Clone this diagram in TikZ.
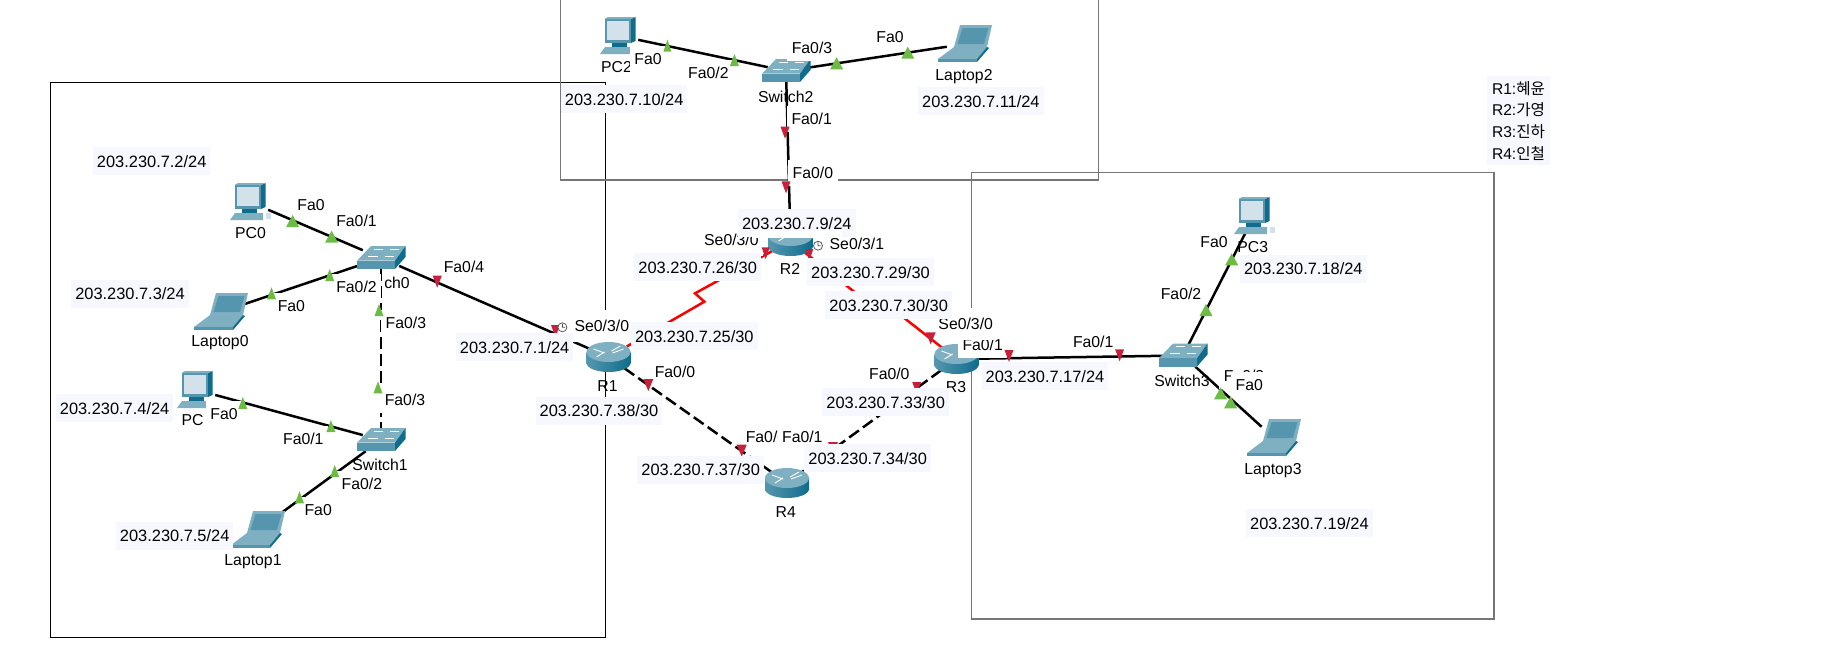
\documentclass[tikz,border=0pt]{standalone}
\usepackage{fontspec}
\setmainfont{Liberation Sans}
\newfontfamily\cjkfont{Noto Sans CJK KR}
\definecolor{portgreen}{HTML}{6CBB45}
\definecolor{portred}{HTML}{C8203A}
\definecolor{framegray}{HTML}{767676}
\definecolor{notebg}{HTML}{F7F8FF}
\definecolor{icondark}{HTML}{0F6C8C}
\definecolor{iconmid}{HTML}{5596AE}
\definecolor{iconlight}{HTML}{D3E2EA}
\definecolor{iconpale}{HTML}{7FB0C2}

\begin{document}
\begin{tikzpicture}[
    x=1pt, y=-1pt,
    devbox/.style={inner sep=0pt, minimum width=36pt, minimum height=22pt},
    devlabel/.style={font=\fontsize{15.8}{18}\selectfont, inner sep=0pt},
    portlabel/.style={font=\fontsize{15.8}{18}\selectfont, fill=white, inner xsep=4.5pt, inner ysep=0pt, minimum height=26pt},
    seriallabel/.style={portlabel, minimum height=32pt},
    iplabel/.style={font=\fontsize{16.4}{18}\selectfont, fill=notebg, inner xsep=4pt, inner ysep=0pt, minimum height=28pt},
    eth/.style={line width=2.5pt, black},
    ethdash/.style={eth, dash pattern=on 12pt off 5pt},
    serial/.style={line width=2.5pt, red, line join=miter},
    clock/.style={draw=black!70, fill=white, line width=0.7pt},
    pics/pcicon/.style={code={
        \fill[iconpale] (-20,18) -- (-15,11) -- (13,11) -- (13,18) -- cycle;
        \fill[icondark] (-8,7) rectangle (7,11);
        \fill[iconmid] (-15.5,-17) rectangle (11,7);
        \fill[iconlight] (-13,-15) rectangle (9,4);
        \fill[icondark] (11,-17) -- (15.5,-19) -- (15.5,5) -- (11,7) -- cycle;
        \fill[iconpale] (-15.5,-17) -- (-12,-19) -- (15.5,-19) -- (11,-17) -- cycle;
        \fill[iconlight] (16,11) rectangle (21,17);
    }},
    pics/laptopicon/.style={code={
        \fill[iconpale] (-11,3) -- (-5,-19) -- (27,-19) -- (22,3) -- cycle;
        \fill[iconmid] (-7.5,0) -- (-2.5,-16) -- (23.5,-16) -- (19,0) -- cycle;
        \fill[iconpale] (-27,15) -- (-11,3) -- (22,3) -- (12,15) -- cycle;
        \fill[iconmid] (-27,15) rectangle (12,18);
        \fill[icondark] (12,18) -- (12,15) -- (22,3) -- (24,4) -- cycle;
    }},
    pics/switchicon/.style={code={
        \fill[iconpale] (-24,2.7) -- (-10,-12) -- (24.5,-12) -- (14,2.7) -- cycle;
        \fill[iconmid] (-24,2.7) rectangle (14,11);
        \fill[icondark] (14,2.7) -- (24.5,-12) -- (24.5,-1) -- (14,11) -- cycle;
        \draw[white, line width=0.7pt] (-7,-9) -- (2,-9) (9,-9) -- (18,-9) (-13,-2) -- (-3,-2) (4,-2) -- (13,-2);
    }},
    pics/routericon/.style={code={
        \shade[left color=iconmid, middle color=iconlight, right color=icondark] (0,6) ellipse [x radius=22, y radius=9];
        \shade[left color=iconmid, middle color=iconlight, right color=icondark] (-22,-5) rectangle (22,6);
        \fill[iconpale] (0,-5) ellipse [x radius=22, y radius=10];
        \draw[white, line width=0.9pt] (-15,-8) -- (-4,-4) (15,-8) -- (4,-4) (-12,0) -- (-4,-5) (12,-11) -- (3,-6);
    }}
]
\useasboundingbox (0,0) rectangle (1835,646);

% Area frames
\draw[black, line width=1pt] (50.3,82) rectangle (605.6,637.3);
\draw[framegray, line width=1.5pt] (560.7,0) -- (560.7,180) -- (1098.3,180) -- (1098.3,0);
\draw[framegray, line width=1.5pt] (971.3,172.7) rectangle (1493.9,619);

% Devices
\node[devbox] (PC0) at (250,202) {};
\node[devbox] (Switch0) at (381,258) {};
\node[devbox] (Laptop0) at (221,312) {};
\node[devbox] (PC1) at (197,390) {};
\node[devbox] (Switch1) at (381,440) {};
\node[devbox] (Laptop1) at (258,530) {};
\node[devbox] (PC2) at (620,36) {};
\node[devbox] (Switch2) at (786,71) {};
\node[devbox] (Laptop2) at (965,44) {};
\node[devbox] (PC3) at (1254,216) {};
\node[devbox] (Switch3) at (1183,355.5) {};
\node[devbox] (Laptop3) at (1274,438) {};
\node[devbox] (R1) at (608.5,357) {};
\node[devbox] (R2) at (790.5,241) {};
\node[devbox] (R3) at (956.5,359) {};
\node[devbox] (R4) at (787,483) {};

% Bends of the serial links
\coordinate (zigA) at (704.3,301.7);
\coordinate (zigB) at (695,293.3);
\coordinate (zigC) at (872,306);
\coordinate (zigD) at (880,299);

% Links
\draw[eth] (PC0) -- (Switch0);
\draw[eth] (Laptop0) -- (Switch0);
\draw[eth] (Switch0) -- (R1);
\draw[ethdash] (Switch0) -- (Switch1);
\draw[eth] (PC1) -- (Switch1);
\draw[eth] (Laptop1) -- (Switch1);
\draw[eth] (PC2) -- (Switch2);
\draw[eth] (Laptop2) -- (Switch2);
\draw[eth] (Switch2) -- (R2);
\draw[eth] (R3) -- (Switch3);
\draw[eth] (PC3) -- (Switch3);
\draw[eth] (Laptop3) -- (Switch3);
\draw[ethdash] (R1) -- (R4);
\draw[ethdash] (R3) -- (R4);
\draw[serial] (R1) -- (zigA) -- (zigB) -- (R2);
\draw[serial] (R2) -- (zigC) -- (zigD) -- (R3);

% Icons
\pic at (PC0) {pcicon};
\pic at (PC1) {pcicon};
\pic at (PC2) {pcicon};
\pic at (PC3) {pcicon};
\pic at (Laptop0) {laptopicon};
\pic at (Laptop1) {laptopicon};
\pic at (Laptop2) {laptopicon};
\pic at (Laptop3) {laptopicon};
\pic at (Switch0) {switchicon};
\pic at (Switch1) {switchicon};
\pic at (Switch2) {switchicon};
\pic at (Switch3) {switchicon};
\pic at (R1) {routericon};
\pic at (R2) {routericon};
\pic at (R3) {routericon};
\pic at (R4) {routericon};

% Device names
\node[devlabel] (namePC0) at (250.5,233) {PC0};
\node[devlabel] (nameSw0) at (397,283) {ch0};
\node[devlabel] (nameLap0) at (220,343) {Laptop0};
\node[devlabel] (namePC1) at (192.5,420) {PC};
\node[devlabel] (nameSw1) at (380,465) {Switch1};
\node[devlabel] (nameLap1) at (253,562) {Laptop1};
\node[devlabel] (namePC2) at (616.5,67) {PC2};
\node[devlabel] (nameSw2) at (785.7,96.7) {Switch2};
\node[devlabel] (nameLap2) at (964,76.7) {Laptop2};
\node[devlabel] (namePC3) at (1252.8,247) {PC3};
\node[devlabel] (nameSw3) at (1182,380.7) {Switch3};
\node[devlabel] (nameLap3) at (1273,470.7) {Laptop3};
\node[devlabel] (nameR1) at (607.5,386) {R1};
\node[devlabel] (nameR2) at (790,269) {R2};
\node[devlabel] (nameR3) at (956,387) {R3};
\node[devlabel] (nameR4) at (785.7,512) {R4};

% Port names
\node[portlabel] (portA) at (311,205.3) {Fa0};
\node[portlabel] (portB) at (356.5,221) {Fa0/1};
\node[portlabel] (portC) at (356.5,287.3) {Fa0/2};
\node[portlabel] (portD) at (291.4,306) {Fa0};
\node[portlabel] (portE) at (464,267.3) {Fa0/4};
\node[portlabel] (portF) at (405.9,323.3) {Fa0/3};
\node[portlabel] (portG) at (405,400.3) {Fa0/3};
\node[portlabel] (portH) at (224,414.3) {Fa0};
\node[portlabel] (portI) at (303.3,439) {Fa0/1};
\node[portlabel] (portJ) at (361.9,484.3) {Fa0/2};
\node[portlabel] (portK) at (318.2,510.3) {Fa0};
\node[portlabel] (portL) at (648,58.7) {Fa0};
\node[portlabel] (portM) at (708.4,73.3) {Fa0/2};
\node[portlabel] (portN) at (812,48.3) {Fa0/3};
\node[portlabel] (portO) at (890,37.3) {Fa0};
\node[portlabel] (portP) at (811.7,119.3) {Fa0/1};
\node[portlabel] (portQ) at (812.9,173.3) {Fa0/0};
\node[portlabel] (portR) at (675,371.7) {Fa0/0};
\node[portlabel] (portS) at (889.3,374.3) {Fa0/0};
\node[portlabel] (portT) at (982.7,344.5) {Fa0/1};
\node[portlabel] (portU) at (766,437.3) {Fa0/0};
\node[portlabel] (portV) at (802.3,436.7) {Fa0/1};
\node[portlabel] (portW) at (1093.2,341.7) {Fa0/1};
\node[portlabel] (portX) at (1214,242.3) {Fa0};
\node[portlabel] (portY) at (1181,293.7) {Fa0/2};
\node[portlabel] (portZ) at (1244,376) {Fa0/3};
\node[portlabel] (portAA) at (1249.3,385.3) {Fa0};
\node[seriallabel] (serA) at (601.8,326.3) {Se0/3/0};
\node[seriallabel] (serB) at (731.4,240.3) {Se0/3/0};
\node[seriallabel] (serC) at (856.9,244.3) {Se0/3/1};
\node[seriallabel] (serD) at (965.7,324.3) {Se0/3/0};

% Port state marks
\foreach \x/\y/\w in {292.6/221/13, 331.6/236.7/13, 329.7/275/9, 271.5/293.3/9, 379/310/9, 378/387.3/9,
    242.8/403/9, 330.9/426/9, 334.7/471/9, 299.5/497.3/9, 667.4/45.7/8, 734.4/60/9, 836.6/63.3/13,
    907.8/52.7/13, 1231.7/259.3/13, 1206/310/13, 1220.6/393.3/13, 1230.6/402.3/13}
    \fill[portgreen] ({\x-\w/2},{\y+6}) -- ({\x+\w/2},{\y+6}) -- (\x,{\y-6}) -- cycle;
\foreach \x/\y/\w in {437.2/281.7/9, 555.5/331/9, 785/132.7/9, 786/187.3/9, 765.7/253.3/8, 809.3/255/8,
    648.3/385/10, 741.7/450.7/10, 930.7/338.3/10, 916.7/388/9, 833/448/10, 1009/356/9, 1119.6/355.3/9}
    \fill[portred] ({\x-\w/2},{\y-6}) -- ({\x+\w/2},{\y-6}) -- (\x,{\y+6}) -- cycle;

% Address notes
\node[iplabel] (ipA) at (151.7,161.3) {203.230.7.2/24};
\node[iplabel] (ipB) at (130,294) {203.230.7.3/24};
\node[iplabel] (ipC) at (514.6,347.3) {203.230.7.1/24};
\node[iplabel] (ipD) at (114.6,408.3) {203.230.7.4/24};
\node[iplabel] (ipE) at (174.7,536) {203.230.7.5/24};
\node[iplabel] (ipF) at (599,411) {203.230.7.38/30};
\node[iplabel] (ipG) at (624.2,99.3) {203.230.7.10/24};
\node[iplabel] (ipH) at (980.9,101.3) {203.230.7.11/24};
\node[iplabel] (ipI) at (796.8,223.3) {203.230.7.9/24};
\node[iplabel] (ipJ) at (697.7,267.3) {203.230.7.26/30};
\node[iplabel] (ipK) at (870.5,272.3) {203.230.7.29/30};
\node[iplabel] (ipL) at (888.7,305.3) {203.230.7.30/30};
\node[iplabel] (ipM) at (694.3,336.3) {203.230.7.25/30};
\node[iplabel] (ipN) at (885.7,402.3) {203.230.7.33/30};
\node[iplabel] (ipO) at (867.7,458.3) {203.230.7.34/30};
\node[iplabel] (ipP) at (700.7,470) {203.230.7.37/30};
\node[iplabel] (ipQ) at (1045,376.3) {203.230.7.17/24};
\node[iplabel] (ipR) at (1303.3,268.7) {203.230.7.18/24};
\node[iplabel] (ipS) at (1309.4,523.3) {203.230.7.19/24};

% Strip that hides the top of R2
\fill[white] (752,230.7) rectangle (842,238);

% Clock marks
\draw[clock] (562.4,327.3) circle (4.5) (562.4,324) -- (562.4,327.3) -- (565,327.3);
\draw[clock] (818,245.7) circle (4.5) (818,242.4) -- (818,245.7) -- (820.6,245.7);

% Names of the router owners
\node[font=\fontsize{15.6}{21.6}\selectfont, fill=notebg, align=left, inner sep=5pt] (owners) at (1518.5,120.8)
    {R1:{\cjkfont 혜윤}\\R2:{\cjkfont 가영}\\R3:{\cjkfont 진하}\\R4:{\cjkfont 인철}};

\end{tikzpicture}
\end{document}
